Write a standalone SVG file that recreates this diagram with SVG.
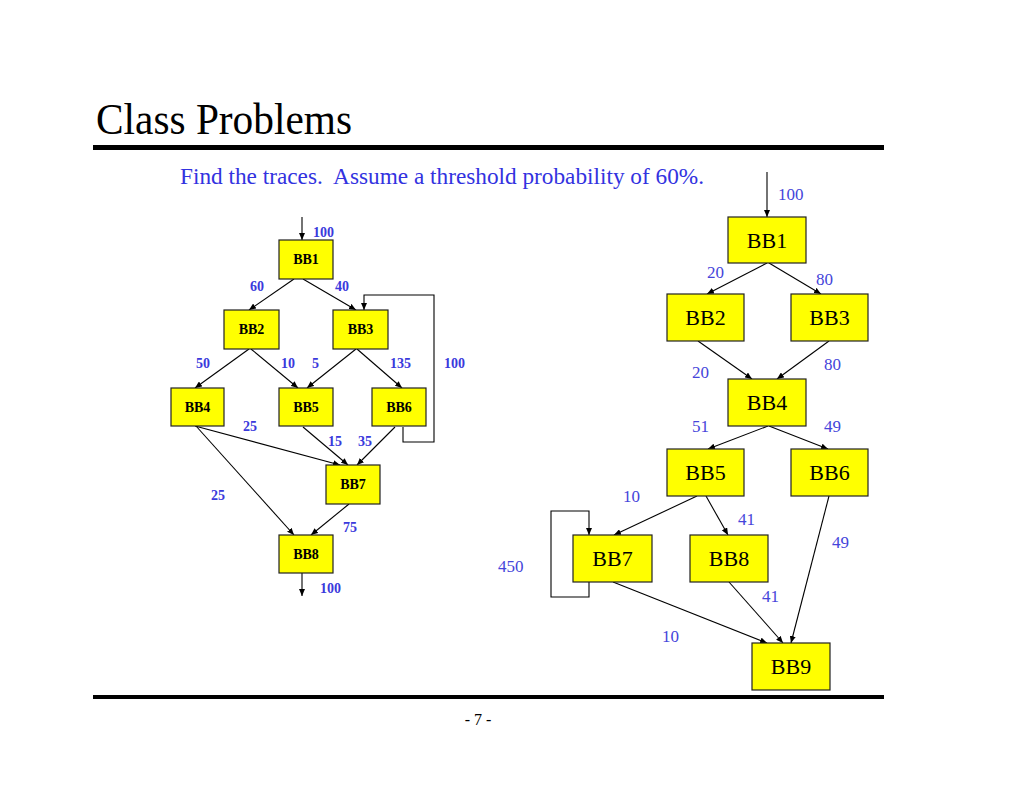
<svg xmlns="http://www.w3.org/2000/svg" width="1024" height="791" viewBox="0 0 1024 791">
<defs>
<marker id="ah" markerWidth="8" markerHeight="6" refX="7" refY="3" orient="auto" markerUnits="userSpaceOnUse">
<path d="M0,0 L7,3 L0,6 Z" fill="#000"/>
</marker>
<style>
.box{fill:#ffff00;stroke:#222;stroke-width:1.2}
.e{fill:none;stroke:#000;stroke-width:1.1}
.ea{fill:none;stroke:#000;stroke-width:1.1;marker-end:url(#ah)}
.lb{font-family:"Liberation Serif","Times New Roman",serif;font-weight:bold;font-size:14px;fill:#000;text-anchor:middle}
.ll{font-family:"Liberation Serif","Times New Roman",serif;font-weight:bold;font-size:14px;fill:#3a3adc}
.rb{font-family:"Liberation Serif","Times New Roman",serif;font-size:22px;fill:#000;text-anchor:middle}
.rl{font-family:"Liberation Serif","Times New Roman",serif;font-size:17px;fill:#4545da}
</style>
</defs>
<rect width="1024" height="791" fill="#fff"/>
<text x="96" y="134" font-family="Liberation Serif, Times New Roman, serif" font-size="44" textLength="256" lengthAdjust="spacingAndGlyphs">Class Problems</text>
<rect x="93" y="145" width="791" height="5" fill="#000"/>
<text x="180" y="184" xml:space="preserve" font-family="Liberation Serif, Times New Roman, serif" font-size="23" fill="#3232e0" textLength="524" lengthAdjust="spacingAndGlyphs">Find the traces.  Assume a threshold probability of 60%.</text>
<rect x="93" y="695" width="791" height="4" fill="#000"/>
<text x="478" y="725" xml:space="preserve" font-family="Liberation Serif, Times New Roman, serif" font-size="16" text-anchor="middle">- 7 -</text>

<g id="connectors">
<!-- left graph -->
<line class="ea" x1="302" y1="217" x2="302" y2="240"/>
<line class="ea" x1="294" y1="279" x2="249" y2="310"/>
<line class="ea" x1="303" y1="279" x2="356" y2="310"/>
<line class="ea" x1="249" y1="349" x2="195" y2="388"/>
<line class="ea" x1="251" y1="349" x2="298" y2="388"/>
<line class="ea" x1="356" y1="349" x2="307" y2="388"/>
<line class="ea" x1="357" y1="349" x2="402" y2="388"/>
<polyline class="ea" points="403,427 403,442 434,442 434,295 364,295 364,310"/>
<line class="ea" x1="195" y1="426" x2="340" y2="465"/>
<line class="ea" x1="196" y1="426" x2="294" y2="535"/>
<line class="ea" x1="303" y1="427" x2="348" y2="465"/>
<line class="ea" x1="395" y1="427" x2="357" y2="465"/>
<line class="ea" x1="349" y1="504" x2="311" y2="535"/>
<line class="ea" x1="302" y1="573" x2="302" y2="596"/>
<!-- right graph -->
<line class="ea" x1="767" y1="172" x2="767" y2="217"/>
<line class="ea" x1="767" y1="263" x2="707" y2="294"/>
<line class="ea" x1="769" y1="263" x2="821" y2="294"/>
<line class="ea" x1="698" y1="341" x2="752" y2="379"/>
<line class="ea" x1="829" y1="341" x2="777" y2="379"/>
<line class="ea" x1="768" y1="426" x2="708" y2="449"/>
<line class="ea" x1="769" y1="426" x2="828" y2="449"/>
<line class="ea" x1="697" y1="496" x2="614" y2="535"/>
<line class="ea" x1="706" y1="496" x2="728" y2="535"/>
<line class="ea" x1="829" y1="496" x2="791" y2="643"/>
<line class="ea" x1="613" y1="582" x2="767" y2="643"/>
<line class="ea" x1="729" y1="582" x2="783" y2="643"/>
<polyline class="ea" points="589,582 589,597 551,597 551,511 589,511 589,535"/>
</g>

<g id="left-labels">
<text class="ll" x="313" y="237">100</text>
<text class="ll" x="250" y="291">60</text>
<text class="ll" x="335" y="291">40</text>
<text class="ll" x="196" y="368">50</text>
<text class="ll" x="281" y="368">10</text>
<text class="ll" x="312" y="368">5</text>
<text class="ll" x="390" y="368">135</text>
<text class="ll" x="444" y="368">100</text>
<text class="ll" x="243" y="431">25</text>
<text class="ll" x="328" y="446">15</text>
<text class="ll" x="358" y="446">35</text>
<text class="ll" x="211" y="500">25</text>
<text class="ll" x="343" y="532">75</text>
<text class="ll" x="320" y="593">100</text>
</g>

<g id="L-BB1"><rect class="box" x="279" y="240" width="54" height="39"/><text class="lb" x="306" y="264">BB1</text></g>
<g id="L-BB2"><rect class="box" x="224" y="310" width="55" height="39"/><text class="lb" x="251.5" y="334">BB2</text></g>
<g id="L-BB3"><rect class="box" x="333" y="310" width="55" height="39"/><text class="lb" x="360.5" y="334">BB3</text></g>
<g id="L-BB4"><rect class="box" x="171" y="388" width="53" height="38"/><text class="lb" x="197.5" y="412">BB4</text></g>
<g id="L-BB5"><rect class="box" x="279" y="388" width="54" height="38"/><text class="lb" x="306" y="412">BB5</text></g>
<g id="L-BB6"><rect class="box" x="372" y="388" width="54" height="38"/><text class="lb" x="399" y="412">BB6</text></g>
<g id="L-BB7"><rect class="box" x="326" y="465" width="54" height="39"/><text class="lb" x="353" y="489">BB7</text></g>
<g id="L-BB8"><rect class="box" x="279" y="535" width="54" height="38"/><text class="lb" x="306" y="559">BB8</text></g>

<g id="right-labels">
<text class="rl" x="778" y="200">100</text>
<text class="rl" x="707" y="278">20</text>
<text class="rl" x="816" y="285">80</text>
<text class="rl" x="692" y="378">20</text>
<text class="rl" x="824" y="370">80</text>
<text class="rl" x="692" y="432">51</text>
<text class="rl" x="824" y="432">49</text>
<text class="rl" x="623" y="502">10</text>
<text class="rl" x="738" y="525">41</text>
<text class="rl" x="832" y="548">49</text>
<text class="rl" x="498" y="572">450</text>
<text class="rl" x="762" y="602">41</text>
<text class="rl" x="662" y="642">10</text>
</g>

<g id="R-BB1"><rect class="box" x="728" y="217" width="78" height="46"/><text class="rb" x="767" y="248">BB1</text></g>
<g id="R-BB2"><rect class="box" x="667" y="294" width="77" height="47"/><text class="rb" x="705.5" y="325">BB2</text></g>
<g id="R-BB3"><rect class="box" x="791" y="294" width="77" height="47"/><text class="rb" x="829.5" y="325">BB3</text></g>
<g id="R-BB4"><rect class="box" x="728" y="379" width="78" height="47"/><text class="rb" x="767" y="410">BB4</text></g>
<g id="R-BB5"><rect class="box" x="667" y="449" width="77" height="47"/><text class="rb" x="705.5" y="480">BB5</text></g>
<g id="R-BB6"><rect class="box" x="791" y="449" width="77" height="47"/><text class="rb" x="829.5" y="480">BB6</text></g>
<g id="R-BB7"><rect class="box" x="573" y="535" width="79" height="47"/><text class="rb" x="612.5" y="566">BB7</text></g>
<g id="R-BB8"><rect class="box" x="690" y="535" width="78" height="47"/><text class="rb" x="729" y="566">BB8</text></g>
<g id="R-BB9"><rect class="box" x="752" y="643" width="78" height="47"/><text class="rb" x="791" y="674">BB9</text></g>
</svg>
